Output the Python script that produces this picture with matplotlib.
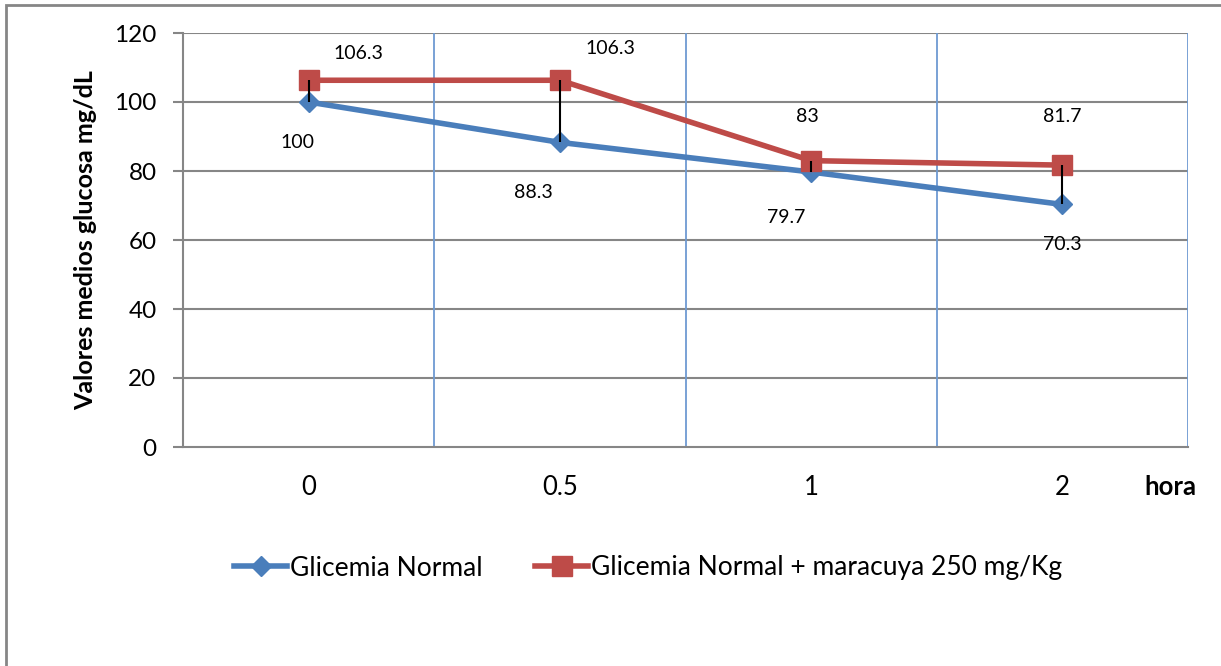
import matplotlib.pyplot as plt
from matplotlib.patches import Rectangle

plt.rcParams['font.family'] = ['Lato', 'DejaVu Sans']

horas = ["0", "0.5", "1", "2"]
glic_normal = [100, 88.3, 79.7, 70.3]
glic_maracuya = [106.3, 106.3, 83, 81.7]
labels_normal = ["100", "88.3", "79.7", "70.3"]
labels_maracuya = ["106.3", "106.3", "83", "81.7"]

# label offsets (x in category units, y in data units), hand placed like the original
off_normal = [(-0.045, -11.6), (-0.105, -14.4), (-0.1, -13.3), (0.0, -11.5)]
off_maracuya = [(0.2, 7.9), (0.2, 9.1), (-0.016, 12.7), (0.0, 14.2)]

blue = "#4A7EBB"
red = "#BE4B48"
gray = "#868686"

fig = plt.figure(figsize=(12.21, 6.66), dpi=100)
fig.patches.append(Rectangle((6 / 1221, -0.1), 1.2, 1 - 5 / 666 + 0.1,
                             transform=fig.transFigure, fill=False,
                             edgecolor=gray, linewidth=2))

ax = fig.add_axes([183 / 1221, 1 - 447 / 666, (1188 - 183) / 1221, (447 - 33) / 666])
x = list(range(len(horas)))

ax.set_xlim(-0.5, len(horas) - 0.5)
ax.set_ylim(0, 120)
ax.set_yticks(range(0, 121, 20))
ax.set_xticks(x)
ax.set_xticklabels(horas, fontsize=18.5)
ax.tick_params(axis='y', labelsize=17.5, length=7, color=gray, width=1.5, pad=12)
ax.tick_params(axis='x', length=0, pad=20)

for y in range(20, 121, 20):
    ax.axhline(y, color=gray, lw=1.5, zorder=0)
for b in [0.5, 1.5, 2.5, 3.5]:
    ax.axvline(b, color="#6E9AD2", lw=1.3, zorder=0)

for s in ["top", "right"]:
    ax.spines[s].set_visible(False)
ax.spines["left"].set_color(gray)
ax.spines["left"].set_linewidth(1.5)
ax.spines["bottom"].set_color(gray)
ax.spines["bottom"].set_linewidth(1.5)

# high-low lines
ax.vlines(x, glic_normal, glic_maracuya, color="black", lw=1.5, zorder=5)

ax.plot(x, glic_normal, color=blue, lw=4, marker="D", markersize=10,
        label="Glicemia Normal", zorder=3)
ax.plot(x, glic_maracuya, color=red, lw=4, marker="s", markersize=14,
        label="Glicemia Normal + maracuya 250 mg/Kg", zorder=4)

for i in x:
    dx, dy = off_normal[i]
    ax.text(i + dx, glic_normal[i] + dy, labels_normal[i], ha="center", va="center", fontsize=14)
    dx, dy = off_maracuya[i]
    ax.text(i + dx, glic_maracuya[i] + dy, labels_maracuya[i], ha="center", va="center", fontsize=14)

ax.set_ylabel("Valores medios glucosa mg/dL", fontsize=18, fontweight="bold", labelpad=12)
fig.text(1170 / 1221, 1 - 487 / 666, "hora", fontsize=18.5, fontweight="bold", ha="center", va="center")

fig.legend(loc="center", bbox_to_anchor=(648 / 1221, 1 - 568 / 666), ncol=2, frameon=False,
           fontsize=19, handlelength=2.0, columnspacing=2.0, handletextpad=0.1)

fig.savefig("out.png", dpi=100)
